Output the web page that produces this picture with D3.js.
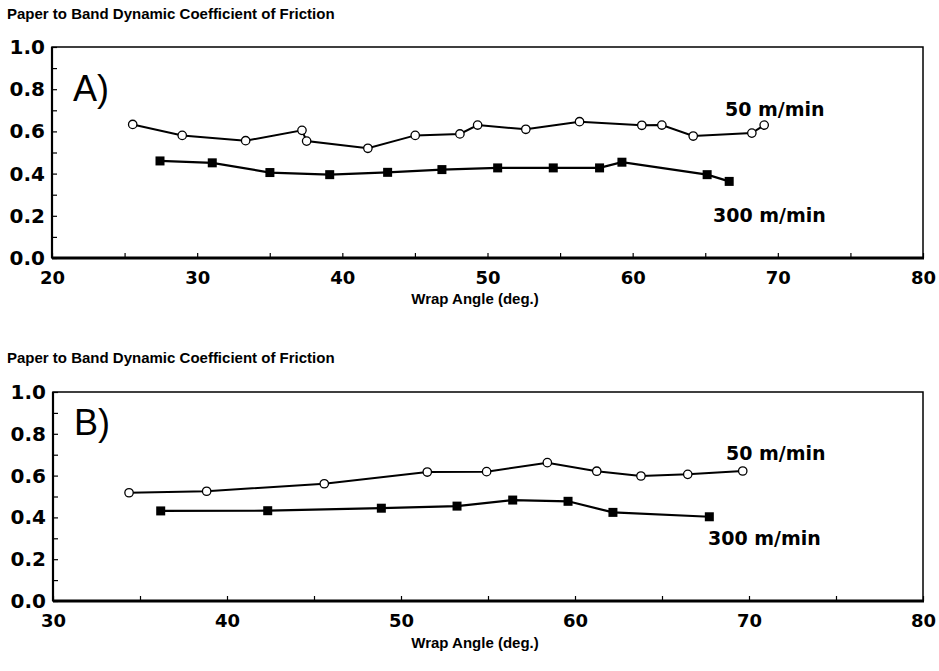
<!DOCTYPE html>
<html><head><meta charset="utf-8">
<script src="https://cdn.jsdelivr.net/npm/d3@7"></script>
<style>body{margin:0;background:#fff}svg{display:block}</style>
</head><body>
<svg id="c" width="939" height="671"></svg>
<script>
// Panel A data
const aSlowX = [25.56,28.97,33.34,37.22,37.54,41.76,45.02,48.10,49.32,52.64,56.34,60.63,62.01,64.17,68.21,69.06];
const aSlowY = [0.633,0.581,0.556,0.605,0.554,0.520,0.581,0.588,0.630,0.610,0.646,0.629,0.630,0.578,0.592,0.630];
const aFastX = [27.44,31.04,35.01,39.13,43.12,46.86,50.70,54.53,57.72,59.26,65.13,66.65];
const aFastY = [0.460,0.451,0.405,0.395,0.406,0.419,0.427,0.427,0.427,0.454,0.395,0.363];
// Panel B data
const bSlowX = [34.37,38.83,45.59,51.51,54.92,58.41,61.25,63.79,66.48,69.64];
const bSlowY = [0.518,0.525,0.561,0.617,0.619,0.662,0.621,0.598,0.606,0.622];
const bFastX = [36.19,42.34,48.87,53.22,56.42,59.60,62.18,67.72];
const bFastY = [0.431,0.432,0.444,0.454,0.483,0.477,0.424,0.403];

const aXTicks = [20,30,40,50,60,70,80];
const bXTicks = [30,40,50,60,70,80];
const yTicks = [0,0.2,0.4,0.6,0.8,1.0];
const titleText = "Paper to Band Dynamic Coefficient of Friction";
const xTitle = "Wrap Angle  (deg.)";
const seriesNames = ["50 m/min","300 m/min"];

const svg = d3.select("#c");
const WIDE = "'DejaVu Sans', sans-serif";
const ARIAL = "'Liberation Sans', Arial, sans-serif";

function panel(cfg){
  const g = svg.append("g");
  const x = d3.scaleLinear().domain(cfg.xDomain).range([cfg.left, cfg.right]);
  const y = d3.scaleLinear().domain([0,1]).range([cfg.bottom, cfg.top]);
  g.append("text").attr("x",7).attr("y",cfg.titleY).style("font-family",ARIAL).style("font-size","15px").style("font-weight","bold").text(titleText);
  // frame
  g.append("rect").attr("x",cfg.left).attr("y",cfg.top).attr("width",cfg.right-cfg.left).attr("height",cfg.bottom-cfg.top)
    .attr("fill","none").attr("stroke","#000").attr("stroke-width",1.5);
  g.append("line").attr("x1",cfg.left).attr("x2",cfg.right+1).attr("y1",cfg.bottom).attr("y2",cfg.bottom).attr("stroke","#000").attr("stroke-width",2.8);
  g.append("line").attr("x1",cfg.left).attr("x2",cfg.left).attr("y1",cfg.top).attr("y2",cfg.bottom).attr("stroke","#000").attr("stroke-width",2.2);
  // axes ticks inward
  const xMinor = d3.range(cfg.xDomain[0], cfg.xDomain[1]+0.1, 5);
  g.append("g").attr("transform",`translate(0,${cfg.bottom})`)
    .call(d3.axisTop(x).tickValues(xMinor).tickSize(5).tickFormat(""))
    .call(s=>s.select(".domain").remove()).selectAll("line").attr("stroke-width",1.2);
  g.append("g").attr("transform",`translate(0,${cfg.bottom})`)
    .call(d3.axisBottom(x).tickValues(cfg.xTicks).tickSize(0).tickPadding(13).tickFormat(d3.format("d")))
    .call(s=>s.select(".domain").remove())
    .selectAll("text").style("font-size","18px").style("font-weight","bold").style("font-family",WIDE).attr("fill","#000");
  const yMinor = d3.range(0,1.01,0.1);
  g.append("g").attr("transform",`translate(${cfg.left},0)`)
    .call(d3.axisRight(y).tickValues(yMinor).tickSize(5).tickFormat(""))
    .call(s=>s.select(".domain").remove()).selectAll("line").attr("stroke-width",1.2);
  g.append("g").attr("transform",`translate(${cfg.left},0)`)
    .call(d3.axisLeft(y).tickValues(yTicks).tickSize(0).tickPadding(7).tickFormat(d3.format(".1f")))
    .call(s=>s.select(".domain").remove())
    .selectAll("text").style("font-size","20px").style("font-weight","bold").style("font-family",WIDE).attr("fill","#000");
  g.append("text").attr("x",475).attr("y",cfg.xTitleY).attr("text-anchor","middle").style("font-family",ARIAL).style("font-size","15px").style("font-weight","bold").text(xTitle);
  g.append("text").attr("x",cfg.left+21).attr("y",cfg.tagY).style("font-size","36px").style("font-family",ARIAL).text(cfg.tag);
  const line = d3.line().x(d=>x(d[0])).y(d=>y(d[1]));
  const slow = cfg.slowX.map((v,i)=>[v,cfg.slowY[i]]);
  const fast = cfg.fastX.map((v,i)=>[v,cfg.fastY[i]]);
  g.append("path").attr("d",line(slow)).attr("fill","none").attr("stroke","#000").attr("stroke-width",2);
  g.append("path").attr("d",line(fast)).attr("fill","none").attr("stroke","#000").attr("stroke-width",2.2);
  g.selectAll(".sq").data(fast).join("rect").attr("x",d=>x(d[0])-4.5).attr("y",d=>y(d[1])-4.5).attr("width",9).attr("height",9).attr("fill","#000");
  g.selectAll(".ci").data(slow).join("circle").attr("cx",d=>x(d[0])).attr("cy",d=>y(d[1])).attr("r",4.2).attr("fill","#fff").attr("stroke","#000").attr("stroke-width",1.3);
  g.append("text").attr("x",cfg.lab1[0]).attr("y",cfg.lab1[1]).style("font-size","19px").style("font-weight","bold").style("font-family",WIDE).text(seriesNames[0]);
  g.append("text").attr("x",cfg.lab2[0]).attr("y",cfg.lab2[1]).style("font-size","19px").style("font-weight","bold").style("font-family",WIDE).text(seriesNames[1]);
}

panel({xDomain:[20,80], xTicks:aXTicks, left:52, right:923, top:47, bottom:258, titleY:19, xTitleY:304, tag:"A)", tagY:101,
  slowX:aSlowX, slowY:aSlowY, fastX:aFastX, fastY:aFastY, lab1:[725,116], lab2:[713,222]});
panel({xDomain:[30,80], xTicks:bXTicks, left:53, right:923, top:392, bottom:601, titleY:363, xTitleY:648, tag:"B)", tagY:435,
  slowX:bSlowX, slowY:bSlowY, fastX:bFastX, fastY:bFastY, lab1:[726,460], lab2:[708,545]});
</script>
</body></html>
